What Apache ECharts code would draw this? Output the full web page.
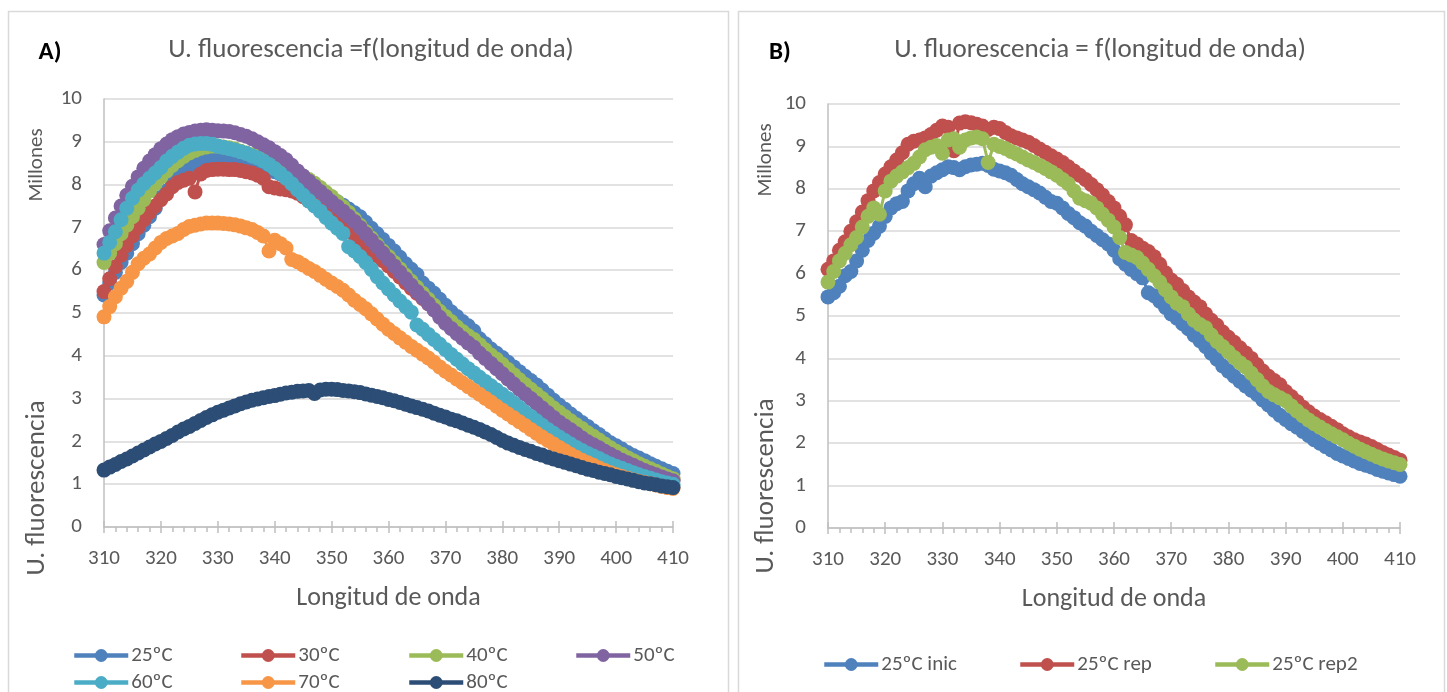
<!DOCTYPE html>
<html>
<head>
<meta charset="utf-8">
<script src="https://cdn.jsdelivr.net/npm/echarts@6/dist/echarts.min.js"></script>
<style>
html,body{margin:0;padding:0;background:#fff;}
#c{width:1447px;height:692px;}
</style>
</head>
<body>
<div id="c"></div>
<script>
// Wavelength grid (nm), one sample per nm from 310 to 410
const wavelengths = [];
for (let w = 310; w <= 410; w++) wavelengths.push(w);

const xTicks = [310, 320, 330, 340, 350, 360, 370, 380, 390, 400, 410];
const yTicks = [0, 1, 2, 3, 4, 5, 6, 7, 8, 9, 10];

// Panel A (millions)
const a25 = [5.42,5.70,5.95,6.18,6.40,6.62,6.85,7.05,7.25,7.45,
7.70,7.85,8.02,8.18,8.30,8.40,8.48,8.54,8.58,8.60,
8.62,8.62,8.60,8.58,8.55,8.52,8.48,8.44,8.40,8.35,
8.30,8.25,8.20,8.14,8.08,8.02,7.95,7.88,7.82,7.76,
7.68,7.60,7.52,7.43,7.34,7.25,7.12,6.98,6.85,6.72,
6.58,6.45,6.30,6.15,6.02,5.90,5.70,5.58,5.46,5.32,
5.18,5.03,4.92,4.80,4.70,4.58,4.40,4.28,4.16,4.06,
3.96,3.85,3.74,3.63,3.52,3.42,3.32,3.20,3.08,2.96,
2.85,2.75,2.64,2.54,2.44,2.35,2.25,2.16,2.06,1.97,
1.90,1.82,1.74,1.67,1.61,1.55,1.48,1.42,1.36,1.30,
1.25];
const a30 = [5.50,5.80,6.08,6.35,6.58,6.80,7.00,7.18,7.35,7.50,
7.65,7.78,7.95,8.05,8.10,8.15,7.83,8.25,8.33,8.35,
8.36,8.36,8.35,8.35,8.33,8.30,8.27,8.22,8.15,7.95,
7.92,7.90,7.88,7.85,7.80,7.72,7.62,7.52,7.42,7.32,
7.22,7.12,7.02,6.92,6.82,6.70,6.58,6.46,6.34,6.22,
6.10,5.97,5.84,5.71,5.58,5.46,5.34,5.22,5.10,4.98,
4.86,4.74,4.63,4.52,4.41,4.30,4.18,4.06,3.94,3.82,
3.70,3.58,3.46,3.34,3.22,3.10,3.00,2.89,2.79,2.68,
2.58,2.48,2.38,2.28,2.19,2.10,2.02,1.94,1.86,1.78,
1.70,1.63,1.56,1.49,1.42,1.36,1.30,1.25,1.20,1.15,
1.10];
const a40 = [6.18,6.40,6.62,6.85,7.05,7.25,7.45,7.65,7.85,8.02,
8.18,8.32,8.45,8.56,8.66,8.74,8.80,8.85,8.88,8.90,
8.90,8.88,8.86,8.83,8.78,8.74,8.70,8.64,8.58,8.52,
8.48,8.44,8.40,8.34,8.27,8.20,8.12,8.03,7.93,7.82,
7.72,7.60,7.48,7.35,7.20,7.05,6.90,6.75,6.60,6.45,
6.32,6.18,6.03,5.88,5.74,5.60,5.46,5.32,5.18,5.04,
4.92,4.80,4.68,4.57,4.47,4.38,4.26,4.14,4.02,3.92,
3.80,3.68,3.56,3.44,3.33,3.22,3.11,3.00,2.89,2.78,
2.68,2.58,2.48,2.39,2.30,2.20,2.12,2.03,1.94,1.85,
1.77,1.70,1.62,1.55,1.48,1.42,1.36,1.30,1.24,1.18,
1.13];
const a50 = [6.60,6.92,7.22,7.50,7.75,7.96,8.18,8.38,8.55,8.70,
8.84,8.95,9.05,9.12,9.18,9.22,9.25,9.27,9.28,9.27,
9.26,9.25,9.24,9.21,9.17,9.13,9.07,9.00,8.93,8.86,
8.77,8.68,8.58,8.45,8.32,8.20,8.08,7.96,7.84,7.72,
7.60,7.49,7.38,7.26,7.14,7.00,6.85,6.70,6.55,6.40,
6.25,6.10,5.95,5.80,5.65,5.50,5.36,5.22,5.07,4.90,
4.76,4.64,4.52,4.41,4.30,4.20,4.06,3.94,3.82,3.70,
3.58,3.46,3.34,3.22,3.11,3.00,2.89,2.78,2.67,2.56,
2.45,2.36,2.27,2.18,2.08,1.99,1.92,1.85,1.77,1.70,
1.63,1.56,1.50,1.44,1.38,1.32,1.27,1.22,1.17,1.12,
1.08];
const a60 = [6.40,6.65,6.90,7.18,7.45,7.68,7.87,8.02,8.15,8.27,
8.40,8.55,8.66,8.76,8.85,8.92,8.95,8.96,8.96,8.94,
8.90,8.87,8.84,8.81,8.77,8.73,8.67,8.62,8.55,8.47,
8.37,8.26,8.15,8.02,7.88,7.75,7.62,7.50,7.38,7.23,
7.10,6.98,6.86,6.55,6.45,6.32,6.18,6.02,5.85,5.70,
5.56,5.42,5.28,5.15,5.02,4.72,4.62,4.50,4.38,4.27,
4.15,4.03,3.92,3.81,3.70,3.60,3.50,3.40,3.30,3.20,
3.10,3.00,2.90,2.79,2.68,2.58,2.48,2.38,2.28,2.19,
2.10,2.02,1.94,1.86,1.79,1.72,1.66,1.60,1.53,1.47,
1.42,1.37,1.32,1.27,1.22,1.18,1.14,1.10,1.06,1.03,
1.00];
const a70 = [4.91,5.15,5.38,5.58,5.74,5.95,6.15,6.28,6.38,6.52,
6.65,6.74,6.80,6.86,6.95,7.02,7.05,7.08,7.10,7.10,
7.10,7.09,7.08,7.06,7.03,6.99,6.95,6.88,6.80,6.45,
6.70,6.62,6.52,6.25,6.20,6.12,6.04,5.97,5.88,5.79,
5.70,5.62,5.53,5.42,5.30,5.20,5.10,4.98,4.86,4.74,
4.62,4.52,4.42,4.32,4.22,4.13,4.04,3.95,3.85,3.74,
3.64,3.55,3.46,3.37,3.28,3.19,3.10,3.01,2.92,2.82,
2.73,2.64,2.55,2.46,2.37,2.28,2.19,2.10,2.02,1.94,
1.86,1.78,1.70,1.63,1.56,1.50,1.44,1.38,1.32,1.27,
1.22,1.18,1.14,1.10,1.07,1.04,1.01,0.98,0.95,0.92,
0.90];
const a80 = [1.33,1.40,1.46,1.53,1.59,1.66,1.73,1.80,1.87,1.94,
2.00,2.07,2.14,2.22,2.29,2.35,2.42,2.49,2.56,2.62,
2.68,2.73,2.78,2.83,2.88,2.92,2.96,2.99,3.02,3.05,
3.07,3.10,3.13,3.15,3.17,3.18,3.19,3.12,3.20,3.22,
3.22,3.21,3.19,3.18,3.16,3.14,3.11,3.08,3.05,3.02,
2.98,2.95,2.91,2.87,2.83,2.79,2.75,2.71,2.66,2.61,
2.57,2.52,2.48,2.43,2.38,2.33,2.28,2.22,2.16,2.09,
2.02,1.96,1.91,1.86,1.81,1.77,1.72,1.68,1.63,1.59,
1.55,1.51,1.47,1.43,1.39,1.35,1.32,1.28,1.25,1.22,
1.18,1.15,1.12,1.09,1.06,1.03,1.01,0.99,0.96,0.94,
0.92];

// Panel B (millions)
const b25inic = [5.45,5.55,5.70,5.95,6.05,6.30,6.55,6.78,6.95,7.12,
7.35,7.55,7.65,7.70,7.95,8.12,8.25,8.05,8.30,8.38,
8.45,8.52,8.50,8.45,8.52,8.56,8.58,8.60,8.55,8.46,
8.42,8.38,8.32,8.22,8.12,8.05,7.98,7.90,7.80,7.70,
7.66,7.55,7.42,7.32,7.20,7.12,7.00,6.90,6.80,6.70,
6.55,6.35,6.22,6.10,6.00,5.90,5.55,5.48,5.35,5.20,
5.05,4.95,4.82,4.70,4.55,4.42,4.28,4.12,3.98,3.82,
3.70,3.58,3.46,3.35,3.25,3.15,3.02,2.90,2.78,2.66,
2.56,2.46,2.38,2.28,2.18,2.08,2.00,1.92,1.84,1.76,
1.70,1.64,1.58,1.52,1.48,1.44,1.38,1.34,1.30,1.26,
1.22];
const b25rep = [6.10,6.30,6.55,6.75,7.00,7.22,7.45,7.72,7.95,8.15,
8.35,8.52,8.68,8.85,9.05,9.12,9.15,9.20,9.28,9.38,
9.48,9.45,8.90,9.55,9.58,9.56,9.52,9.48,9.40,9.45,
9.42,9.33,9.25,9.20,9.15,9.10,9.02,8.94,8.86,8.78,
8.70,8.62,8.52,8.42,8.32,8.22,8.10,7.98,7.85,7.70,
7.55,7.35,7.15,6.78,6.70,6.60,6.52,6.40,6.22,6.02,
5.85,5.75,5.60,5.45,5.33,5.22,5.05,4.90,4.78,4.62,
4.50,4.38,4.25,4.13,4.00,3.85,3.70,3.58,3.48,3.38,
3.22,3.10,2.98,2.85,2.74,2.64,2.56,2.48,2.40,2.32,
2.22,2.15,2.08,2.03,1.98,1.92,1.85,1.78,1.72,1.66,
1.60];
const b25rep2 = [5.80,6.05,6.30,6.48,6.68,6.85,7.10,7.35,7.55,7.40,
7.95,8.18,8.30,8.40,8.50,8.60,8.75,8.92,8.98,9.02,
8.84,9.15,9.18,8.98,9.15,9.20,9.22,9.18,8.62,9.05,
9.00,8.95,8.88,8.82,8.75,8.68,8.62,8.55,8.48,8.40,
8.32,8.22,8.12,7.95,7.78,7.72,7.66,7.55,7.40,7.26,
7.10,6.85,6.50,6.44,6.38,6.25,6.10,5.95,5.80,5.62,
5.45,5.30,5.22,5.05,4.90,4.80,4.72,4.55,4.40,4.28,
4.15,4.02,3.90,3.80,3.65,3.50,3.35,3.22,3.14,3.07,
3.00,2.88,2.76,2.65,2.55,2.46,2.38,2.30,2.22,2.15,
2.08,2.00,1.93,1.86,1.80,1.74,1.68,1.63,1.58,1.54,
1.50];

const namesA = ['25ºC','30ºC','40ºC','50ºC','60ºC','70ºC','80ºC'];
const valuesA = [a25,a30,a40,a50,a60,a70,a80];
const colorsA = ['#4F81BD','#C0504D','#9BBB59','#8064A2','#4BACC6','#F79646','#2C4D75'];
const namesB = ['25ºC inic','25ºC rep','25ºC rep2'];
const valuesB = [b25inic,b25rep,b25rep2];
const colorsB = ['#4F81BD','#C0504D','#9BBB59'];

const FONT = 'Carlito, "Liberation Sans Narrow", Lato, sans-serif';
const TXT = '#595959';
const GRID_C = '#D9D9D9';
const AXIS_C = '#BFBFBF';

const gridsPx = [
  {left: 104, top: 99, width: 569, height: 428},
  {left: 828, top: 104, width: 572, height: 424}
];

function xAxesFor(gi) {
  return [{
    gridIndex: gi, type: 'value', min: 310, max: 410, interval: 10,
    axisLine: {show: true, lineStyle: {color: AXIS_C, width: 1.5}},
    axisTick: {show: true, length: 6, lineStyle: {color: AXIS_C, width: 1.5}},
    minorTick: {show: true, splitNumber: 5, length: 5, lineStyle: {color: AXIS_C, width: 1.5}},
    axisLabel: {color: TXT, fontSize: 21, fontFamily: FONT, margin: 21,
      customValues: xTicks},
    splitLine: {show: false},
    name: 'Longitud de onda', nameLocation: 'middle', nameGap: 58,
    nameTextStyle: {color: TXT, fontSize: 26, fontFamily: FONT}
  }, {
    gridIndex: gi, type: 'value', min: 310, max: 410, interval: 10, position: 'bottom',
    axisLine: {show: false},
    axisTick: {show: true, inside: true, length: 6, lineStyle: {color: AXIS_C, width: 1.5}},
    axisLabel: {show: false}, splitLine: {show: false}
  }];
}
function yAxisFor(gi) {
  return {
    gridIndex: gi, type: 'value', min: 0, max: 10, interval: 1,
    axisLine: {show: true, lineStyle: {color: AXIS_C, width: 1.5}},
    axisTick: {show: false},
    axisLabel: {color: TXT, fontSize: 21, fontFamily: FONT, margin: 22,
      customValues: yTicks},
    splitLine: {show: true, lineStyle: {color: GRID_C, width: 1.5}}
  };
}

const series = [];
namesA.forEach((n, i) => series.push({
  name: n, type: 'line', xAxisIndex: 0, yAxisIndex: 0,
  data: wavelengths.map((w, k) => [w, valuesA[i][k]]),
  symbol: 'circle', symbolSize: 15, showAllSymbol: true,
  itemStyle: {color: colorsA[i]}, lineStyle: {color: colorsA[i], width: 3},
  animation: false
}));
namesB.forEach((n, i) => series.push({
  name: n, type: 'line', xAxisIndex: 2, yAxisIndex: 1,
  data: wavelengths.map((w, k) => [w, valuesB[i][k]]),
  symbol: 'circle', symbolSize: 15, showAllSymbol: true,
  itemStyle: {color: colorsB[i]}, lineStyle: {color: colorsB[i], width: 3},
  animation: false
}));

const legendPos = [
  ['25ºC', 72, 645], ['30ºC', 239, 645], ['40ºC', 407, 645], ['50ºC', 574, 645],
  ['60ºC', 72, 672], ['70ºC', 239, 672], ['80ºC', 407, 672],
  ['25ºC inic', 822, 654], ['25ºC rep', 1018, 654], ['25ºC rep2', 1213, 654]
];
const legends = legendPos.map(p => ({
  data: [p[0]], left: p[1], top: p[2], orient: 'horizontal',
  itemWidth: 54, itemHeight: 16, itemGap: 4, padding: 0,
  textStyle: {color: TXT, fontSize: 21, fontFamily: FONT, padding: [0, 0, 0, -2]},
  lineStyle: {width: 4.5}
}));

function txt(x, y, text, size, opts) {
  return Object.assign({
    type: 'text', x: x, y: y, silent: true,
    style: Object.assign({text: text, fill: TXT, font: size + 'px ' + FONT,
      align: 'center', verticalAlign: 'middle'}, (opts && opts.style) || {})
  }, (opts && opts.el) || {});
}

const graphics = [
  {type: 'rect', shape: {x: 8.5, y: 11.5, width: 720, height: 700}, style: {fill: 'none', stroke: '#D9D9D9', lineWidth: 1.5}, silent: true},
  {type: 'rect', shape: {x: 738.5, y: 11.5, width: 706, height: 700}, style: {fill: 'none', stroke: '#D9D9D9', lineWidth: 1.5}, silent: true},
  txt(50, 53, 'A)', 25, {style: {font: 'bold 25px ' + FONT, fill: '#000'}}),
  txt(371, 50, 'U. fluorescencia =f(longitud de onda)', 27),
  txt(780, 53, 'B)', 25, {style: {font: 'bold 25px ' + FONT, fill: '#000'}}),
  txt(1100, 50, 'U. fluorescencia = f(longitud de onda)', 27),
  txt(37, 165, 'Millones', 21, {el: {rotation: Math.PI / 2}}),
  txt(37, 488, 'U. fluorescencia', 27, {el: {rotation: Math.PI / 2}}),
  txt(766, 160, 'Millones', 21, {el: {rotation: Math.PI / 2}}),
  txt(766, 486, 'U. fluorescencia', 27, {el: {rotation: Math.PI / 2}})
];

const chart = echarts.init(document.getElementById('c'), null, {renderer: 'canvas'});
chart.setOption({
  backgroundColor: '#ffffff',
  animation: false,
  grid: gridsPx.map(g => Object.assign({containLabel: false}, g)),
  xAxis: [].concat(xAxesFor(0), xAxesFor(1)),
  yAxis: [yAxisFor(0), yAxisFor(1)],
  legend: legends,
  series: series,
  graphic: graphics
});
</script>
</body>
</html>
